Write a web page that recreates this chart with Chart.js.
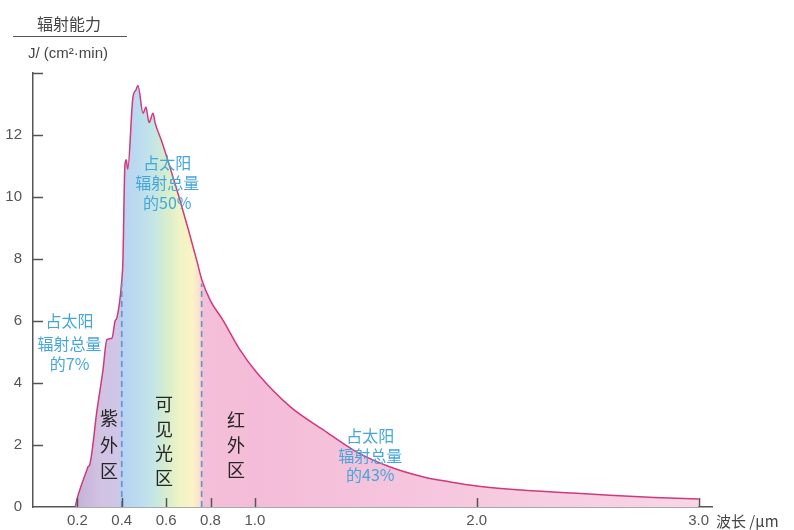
<!DOCTYPE html>
<html>
<head>
<meta charset="utf-8">
<script src="https://cdn.jsdelivr.net/npm/chart.js@4.4.1/dist/chart.umd.min.js"></script>
<style>
  html, body { margin: 0; padding: 0; background: #ffffff; }
  #wrap { width: 794px; height: 530px; position: relative; }
</style>
</head>
<body>
<div id="wrap"><canvas id="c"></canvas></div>
<script>
// ---- data ----
const wavelengths = [0.19, 0.20, 0.243, 0.248, 0.255, 0.288, 0.315, 0.333, 0.356, 0.37, 0.378, 0.40, 0.405, 0.414, 0.42, 0.427, 0.45, 0.464, 0.473, 0.496, 0.509, 0.523, 0.541, 0.55, 0.58, 0.62, 0.66, 0.70, 0.74, 0.76, 0.80, 0.856, 0.93, 1.01, 1.16, 1.31, 1.46, 1.61, 1.76, 1.88, 2.0, 2.2, 2.43, 2.6, 2.8, 3.0];
const radiation   = [0,    0.3,  1.2,   1.3,   1.35,  3.1,   4.4,   5.4,   5.45,  6.0,  6.1,   7.3,  7.9,   11.0,  11.2, 10.9,  13.2, 13.45, 13.6,  12.7,  12.9,  12.4,  12.7,  12.4, 11.8, 10.9, 9.95, 8.95, 7.9,  7.35, 6.65, 6.03,  5.1,  4.32, 3.23, 2.48, 1.77, 1.29, 0.97, 0.81, 0.68, 0.55, 0.45, 0.38, 0.31, 0.26];
const xTickValues = [0.2, 0.4, 0.6, 0.8, 1.0, 2.0, 3.0];
const xTickLabels = ['0.2', '0.4', '0.6', '0.8', '1.0', '2.0', '3.0'];
const yTickValues = [0, 2, 4, 6, 8, 10, 12];
const bandBounds  = [0.4, 0.76];     // UV / visible / IR boundaries (dashed lines)
const dashTop     = [7.2, 7.2];
const bandNames   = ['紫外区', '可见光区', '红外区'];
const shareTexts  = [['占太阳', '辐射总量', '的7%'], ['占太阳', '辐射总量', '的50%'], ['占太阳', '辐射总量', '的43%']];

// ---- layout / style (not data) ----
const CJK = '"Noto Sans CJK SC", "Noto Sans", sans-serif';
const NUM = '"Liberation Sans", Arial, sans-serif';
const AXIS_COLOR = '#555555';
const gradientStops = [
  [0.19, '#c5b0d8'], [0.30, '#d1c2e2'], [0.385, '#cfc6e8'], [0.398, '#c0cbec'],
  [0.402, '#b6d3f2'], [0.48, '#bcdcf0'], [0.54, '#c3e5e5'], [0.60, '#d6edcc'],
  [0.66, '#eef4c4'], [0.72, '#fcf2c7'], [0.75, '#fbe0cf'], [0.765, '#f4bfd8'],
  [1.0, '#f4bcd8'], [2.0, '#f6c9df'], [3.0, '#f8d6e6']
];
const shareAnchors = [{x: 0.165, y: 6.0, lines: [0, 23, 43]}, {x: 0.605, y: 11.1, lines: [0, 20, 40]}, {x: 1.52, y: 2.3, lines: [0, 20, 39]}];
const bandAnchors = [{x: 0.343, tops: [418, 445, 471]}, {x: 0.59, tops: [404, 429, 453, 478]}, {x: 0.915, tops: [420, 445, 470]}];

const curvePoints = wavelengths.map((w, i) => ({x: w, y: radiation[i]}));

function spectrumFill(context) {
  const chart = context.chart;
  const area = chart.chartArea;
  const xs = chart.scales.x;
  if (!area || !xs) return '#f4bcd8';
  const g = chart.ctx.createLinearGradient(area.left, 0, area.right, 0);
  const w = area.right - area.left;
  gradientStops.forEach(([v, c]) => {
    let f = (xs.getPixelForValue(v) - area.left) / w;
    f = Math.min(1, Math.max(0, f));
    g.addColorStop(f, c);
  });
  return g;
}

const decorPlugin = {
  id: 'decor',
  afterDatasetsDraw(chart) {
    const {ctx, chartArea: a, scales: {x, y}} = chart;
    ctx.save();
    // inward tick marks
    ctx.strokeStyle = AXIS_COLOR;
    ctx.lineWidth = 1.5;
    ctx.beginPath();
    xTickValues.forEach(v => {
      const px = Math.round(x.getPixelForValue(v)) + 0.5;
      ctx.moveTo(px, a.bottom);
      ctx.lineTo(px, a.bottom - 9);
    });
    [2, 4, 6, 8, 10, 12, 14].forEach(v => {
      const py = Math.round(y.getPixelForValue(v)) + 0.5;
      ctx.moveTo(a.left, py);
      ctx.lineTo(a.left + 10, py);
    });
    ctx.stroke();

    // share annotations (blue)
    ctx.fillStyle = '#45a6db';
    ctx.font = '16px ' + CJK;
    ctx.textAlign = 'center';
    ctx.textBaseline = 'middle';
    shareTexts.forEach((lines, i) => {
      const an = shareAnchors[i];
      const cx = x.getPixelForValue(an.x);
      const cy = y.getPixelForValue(an.y);
      lines.forEach((t, j) => ctx.fillText(t, cx, cy + an.lines[j]));
    });

    // band names (vertical, dark)
    ctx.fillStyle = '#262626';
    ctx.font = '18px ' + CJK;
    bandNames.forEach((name, i) => {
      const an = bandAnchors[i];
      const cx = x.getPixelForValue(an.x);
      [...name].forEach((ch, j) => ctx.fillText(ch, cx, an.tops[j]));
    });

    // y-axis title
    ctx.fillStyle = '#444444';
    ctx.font = '16px ' + CJK;
    ctx.fillText('辐射能力', 69, 24);
    ctx.font = '15px ' + NUM;
    ctx.fillText('J/ (cm²·min)', 68, 54);
    ctx.strokeStyle = '#555555';
    ctx.lineWidth = 1.2;
    ctx.beginPath();
    ctx.moveTo(13, 36.5);
    ctx.lineTo(127, 36.5);
    ctx.stroke();

    // x-axis title
    ctx.textAlign = 'left';
    ctx.font = '15px ' + CJK;
    ctx.fillStyle = '#444444';
    ctx.fillText('波长 /μm', a.right + 4, a.bottom + 14);
    ctx.restore();
  }
};

new Chart(document.getElementById('c'), {
  type: 'line',
  data: {
    datasets: [
      {
        label: 'dash-uv',
        data: [{x: bandBounds[0], y: 0}, {x: bandBounds[0], y: dashTop[0]}],
        borderColor: '#5b97cf',
        borderWidth: 1.6,
        borderDash: [6, 4],
        pointRadius: 0,
        fill: false,
        order: 0
      },
      {
        label: 'dash-ir',
        data: [{x: bandBounds[1], y: 0}, {x: bandBounds[1], y: dashTop[1]}],
        borderColor: '#5b97cf',
        borderWidth: 1.6,
        borderDash: [6, 4],
        pointRadius: 0,
        fill: false,
        order: 0
      },
      {
        label: '辐射能力',
        data: curvePoints,
        borderColor: '#cf3a7e',
        borderWidth: 1.5,
        backgroundColor: spectrumFill,
        fill: 'origin',
        pointRadius: 0,
        cubicInterpolationMode: 'monotone',
        order: 1
      }
    ]
  },
  options: {
    responsive: true,
    maintainAspectRatio: false,
    animation: false,
    layout: { padding: { left: 0, right: 82, top: 73, bottom: 0 } },
    plugins: { legend: { display: false }, tooltip: { enabled: false } },
    scales: {
      x: {
        type: 'linear',
        min: 0,
        max: 3.06,
        afterBuildTicks: s => { s.ticks = xTickValues.map(v => ({value: v})); },
        afterFit: s => { s.height = 23; },
        grid: { display: false, drawTicks: false },
        border: { display: true, color: AXIS_COLOR, width: 1.5 },
        ticks: {
          padding: 5,
          color: '#555555',
          font: { family: NUM, size: 15 },
          callback: (v) => { const i = xTickValues.indexOf(v); return i >= 0 ? xTickLabels[i] : ''; },
          maxRotation: 0,
          autoSkip: false
        }
      },
      y: {
        type: 'linear',
        min: 0,
        max: 14,
        afterBuildTicks: s => { s.ticks = yTickValues.map(v => ({value: v})); },
        afterFit: s => { s.width = 33; },
        grid: { display: false, drawTicks: false },
        border: { display: true, color: AXIS_COLOR, width: 1.5 },
        ticks: {
          padding: 11,
          color: '#555555',
          font: { family: NUM, size: 15 }
        }
      }
    }
  },
  plugins: [decorPlugin]
});
</script>
</body>
</html>
